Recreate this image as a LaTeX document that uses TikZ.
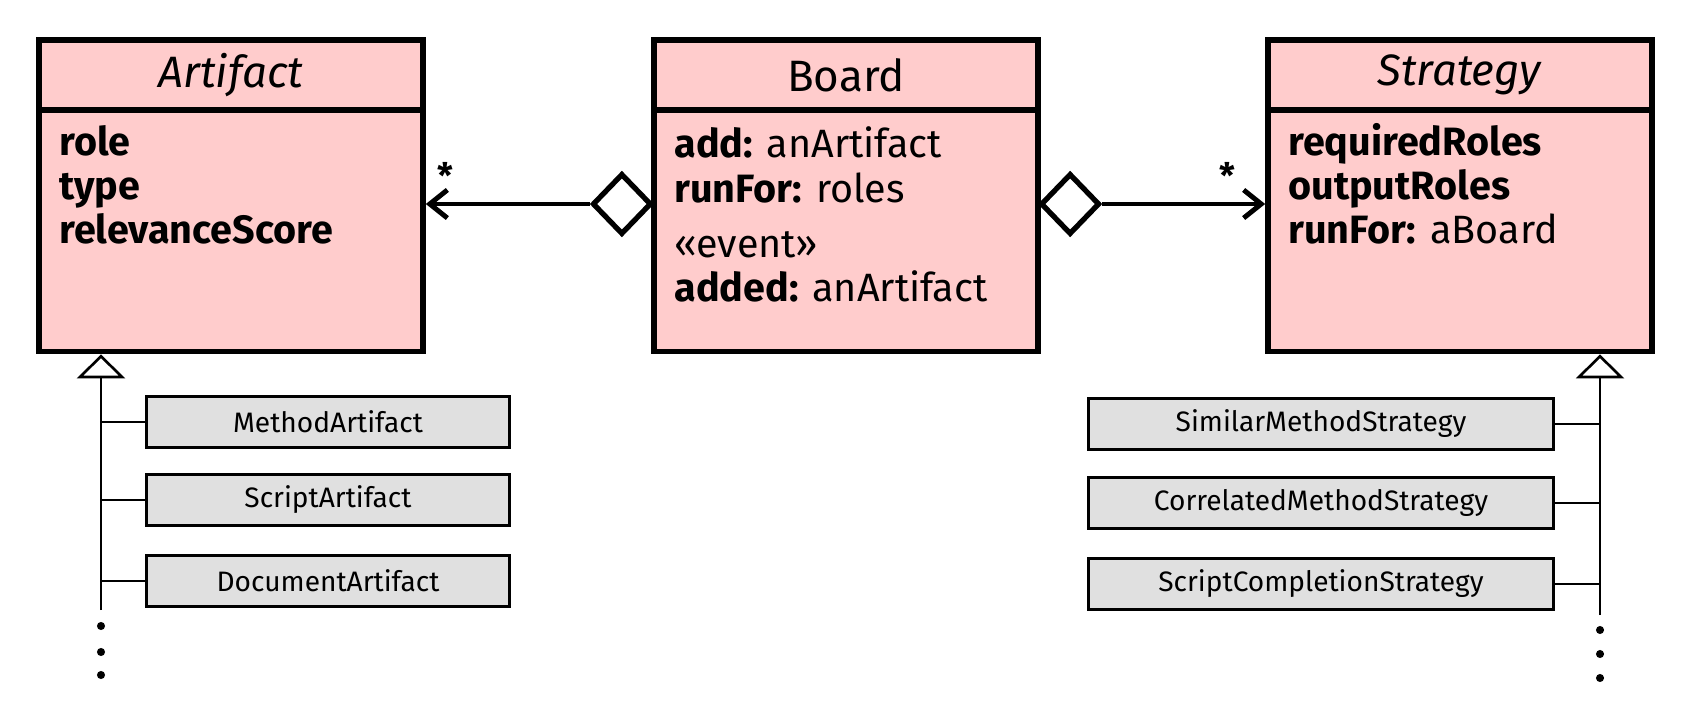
\documentclass[tikz,border=0pt]{standalone}
\usepackage{fontspec}
\setmainfont{Fira Sans}
\usepackage{xcolor}
\usetikzlibrary{shapes.geometric,arrows.meta}
\definecolor{classpink}{HTML}{FFCCCC}
\definecolor{subgray}{HTML}{E0E0E0}

\begin{document}
\begin{tikzpicture}[x=0.02cm,y=-0.02cm,
    classhead/.style={draw, line width=3.3pt, fill=classpink, minimum width=7.68cm,
      minimum height=1.4cm, font=\fontsize{25}{30}\selectfont},
    classbody/.style={draw, line width=3.3pt, fill=classpink, minimum width=7.68cm,
      minimum height=4.82cm},
    attrs/.style={align=left, inner sep=0pt, anchor=base west,
      font=\fontsize{22.5}{25.3}\selectfont},
    subclass/.style={draw, line width=1.6pt, fill=subgray, minimum height=1.02cm,
      font=\fontsize{16}{19}\selectfont},
    agg/.style={diamond, draw, line width=3pt, fill=white, minimum width=1.18cm,
      minimum height=1.22cm, inner sep=0pt},
    assoc/.style={line width=2.8pt, -{Straight Barb[length=10pt,width=16pt]}},
    inherit/.style={line width=1.5pt},
    isa/.style={inherit, -{Triangle[open,length=0.48cm,width=0.96cm]}}]
  \useasboundingbox (0,0) rectangle (1686,702);
  % Klassen
  \node[classhead] (artifactHead) at (231,75) {\textit{Artifact}};
  \node[classbody] (artifactBody) at (231,231) {};
  \node[classhead] (boardHead) at (846,75) {Board};
  \node[classbody] (boardBody) at (846,231) {};
  \node[classhead] (strategyHead) at (1460,75) {\textit{Strategy}};
  \node[classbody] (strategyBody) at (1460,231) {};
  % Attribute (Anker: Grundlinie der letzten Zeile)
  \node[attrs] (artifactAttrs) at (59,244) {\textbf{role}\\\textbf{type}\\\textbf{relevanceScore}};
  \node[attrs] (boardAttrs) at (674,302) {\textbf{add:} anArtifact\\\textbf{runFor:} roles\\[0.22cm]
    «event»\\\textbf{added:} anArtifact};
  \node[attrs] (strategyAttrs) at (1288,244) {\textbf{requiredRoles}\\\textbf{outputRoles}\\\textbf{runFor:} aBoard};
  % Aggregation
  \node[agg, anchor=east] (aggLeft) at (654,204) {};
  \node[agg, anchor=west] (aggRight) at (1038,204) {};
  \draw[assoc] (aggLeft.west) -- (aggLeft.west -| artifactBody.east)
    node[pos=0.88, above=4pt, font=\bfseries\fontsize{20}{24}\selectfont] (starLeft) {*};
  \draw[assoc] (aggRight.east) -- (aggRight.east -| strategyBody.west)
    node[pos=0.77, above=4pt, font=\bfseries\fontsize{20}{24}\selectfont] (starRight) {*};
  % Unterklassen
  \node[subclass, minimum width=7.26cm] (methodArt) at (328,422) {MethodArtifact};
  \node[subclass, minimum width=7.26cm] (scriptArt) at (328,500) {ScriptArtifact};
  \node[subclass, minimum width=7.26cm] (documentArt) at (328,581) {DocumentArtifact};
  \node[subclass, minimum width=9.3cm] (similarStrat) at (1321,424) {SimilarMethodStrategy};
  \node[subclass, minimum width=9.3cm] (correlatedStrat) at (1321,503) {CorrelatedMethodStrategy};
  \node[subclass, minimum width=9.3cm] (completionStrat) at (1321,584) {ScriptCompletionStrategy};
  % Vererbung
  \coordinate (artifactEnd) at (101,610);
  \coordinate (strategyEnd) at (1600,615);
  \draw[isa] (artifactEnd) -- (artifactEnd |- artifactBody.south);
  \draw[isa] (strategyEnd) -- (strategyEnd |- strategyBody.south);
  \foreach \n in {methodArt,scriptArt,documentArt}
    \draw[inherit] (\n.west) -- (\n.west -| artifactEnd);
  \foreach \n in {similarStrat,correlatedStrat,completionStrat}
    \draw[inherit] (\n.east) -- (\n.east -| strategyEnd);
  \foreach \y in {626,652,675} \fill (101,\y) circle (2.3pt);
  \foreach \y in {630,654,678} \fill (1600,\y) circle (2.3pt);
\end{tikzpicture}
\end{document}
